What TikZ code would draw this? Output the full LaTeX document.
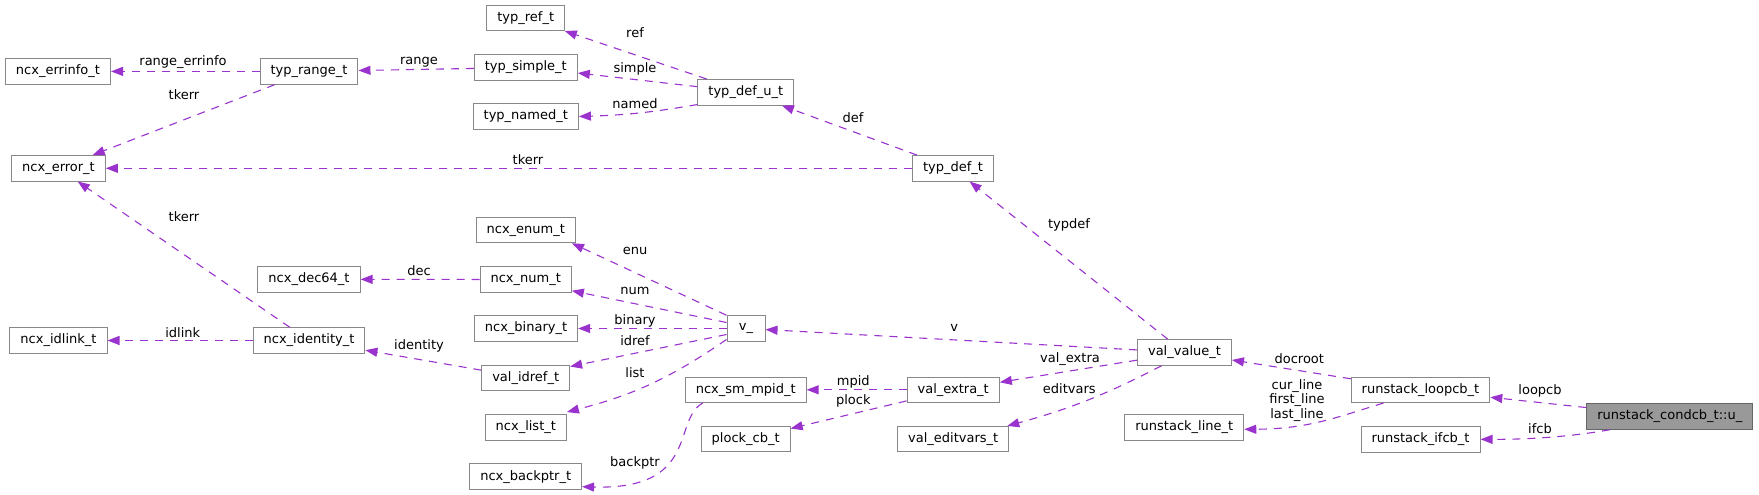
\documentclass[tikz,border=0pt]{standalone}
\usepackage{fontspec}
\setmainfont{DejaVu Sans}
\usetikzlibrary{arrows.meta}
\definecolor{edgec}{HTML}{9A32CD}
\definecolor{boxc}{HTML}{888888}
\definecolor{rootc}{HTML}{999999}

\begin{document}
\begin{tikzpicture}[x=1pt,y=-1pt,
 cls/.style={draw=boxc,fill=white,line width=1pt,minimum height=25.5pt,minimum width=38pt,
  inner xsep=10.5pt,inner ysep=0pt,font=\fontsize{13pt}{14.3pt}\selectfont},
 root/.style={cls,draw=black!60,fill=rootc},
 mem/.style={edgec,line width=1.1pt,dash pattern=on 8pt off 7pt,-{Triangle[length=12pt,width=9pt]}},
 lbl/.style={inner sep=0pt,align=center,font=\fontsize{13pt}{14.3pt}\selectfont}]
 \useasboundingbox (0,0) rectangle (1759,495);

 % classes
 \node[cls] (errinfo) at (58,71.4) {ncx\_errinfo\_t};
 \node[cls] (range) at (309,71.4) {typ\_range\_t};
 \node[cls] (tref) at (525.7,17.8) {typ\_ref\_t};
 \node[cls] (tsimple) at (525.8,67.5) {typ\_simple\_t};
 \node[cls] (tnamed) at (525.8,116.5) {typ\_named\_t};
 \node[cls] (defu) at (745.8,92.3) {typ\_def\_u\_t};
 \node[cls] (nerror) at (58.5,168.3) {ncx\_error\_t};
 \node[cls] (tdef) at (953,168.3) {typ\_def\_t};
 \node[cls] (nenum) at (525.8,230) {ncx\_enum\_t};
 \node[cls] (dec64) at (309,279.3) {ncx\_dec64\_t};
 \node[cls] (nnum) at (525.7,279.5) {ncx\_num\_t};
 \node[cls] (binary) at (526,328.5) {ncx\_binary\_t};
 \node[cls] (idlink) at (58.5,340.5) {ncx\_idlink\_t};
 \node[cls] (identity) at (309,340.5) {ncx\_identity\_t};
 \node[cls] (idref) at (525.7,377.8) {val\_idref\_t};
 \node[cls] (nlist) at (525.8,427.3) {ncx\_list\_t};
 \node[cls] (backptr) at (525.7,476.7) {ncx\_backptr\_t};
 \node[cls] (vu) at (746,328.5) {v\_};
 \node[cls] (mpid) at (745.7,389.8) {ncx\_sm\_mpid\_t};
 \node[cls] (plock) at (745.7,439.2) {plock\_cb\_t};
 \node[cls] (vextra) at (953.2,389.8) {val\_extra\_t};
 \node[cls] (veditvars) at (953.2,439.2) {val\_editvars\_t};
 \node[cls] (vvalue) at (1184.5,352.5) {val\_value\_t};
 \node[cls] (rsline) at (1184.3,427.3) {runstack\_line\_t};
 \node[cls] (loopcb) at (1420.5,389.8) {runstack\_loopcb\_t};
 \node[cls] (ifcb) at (1420.5,439.3) {runstack\_ifcb\_t};
 \node[root] (condu) at (1669.8,416.5) {runstack\_condcb\_t::u\_};

 % members
 \draw[mem] (range) -- (errinfo);
 \draw[mem] (range) -- (nerror);
 \draw[mem] (tsimple) -- (range);
 \draw[mem] (defu) -- (tref);
 \draw[mem] ([yshift=5.6pt]defu.west) -- ([yshift=-5.5pt]tsimple.east);
 \draw[mem] ([yshift=1pt]defu.south west) to[bend left=4] (tnamed.east);
 \draw[mem] (tdef) -- (defu);
 \draw[mem] (tdef) -- (nerror);
 \draw[mem] (vvalue) -- (tdef);
 \draw[mem] (identity) -- (nerror);
 \draw[mem] (identity) -- (idlink);
 \draw[mem] (nnum) -- (dec64);
 \draw[mem] (idref) -- (identity);
 \draw[mem] (vu.north west) -- ([xshift=-4pt]nenum.south east);
 \draw[mem] ([yshift=6pt]vu.west) -- ([yshift=2pt]nnum.south east);
 \draw[mem] (vu) -- (binary);
 \draw[mem] ([yshift=-6pt]vu.west) -- ([yshift=-2pt]idref.north east);
 \draw[mem] ([yshift=-11pt]vu.west) to[bend left=10] ([yshift=2pt]nlist.north east);
 \draw[mem] ([xshift=18pt]mpid.south west) .. controls (672,420) and (700,490) .. ([yshift=-10pt]backptr.east);
 \draw[mem] (vextra) -- (mpid);
 \draw[mem] (vextra) -- (plock);
 \draw[mem] (vvalue) -- (vu);
 \draw[mem] (vvalue) -- (vextra);
 \draw[mem] ([xshift=-23pt]vvalue.south) to[bend left=6] ([xshift=-2pt]veditvars.north east);
 \draw[mem] (loopcb) -- (vvalue);
 \draw[mem] ([xshift=-37pt]loopcb.south) .. controls (1340,416) and (1310,429) .. ([yshift=-2pt]rsline.east);
 \draw[mem] (condu) -- (loopcb);
 \draw[mem] ([xshift=-60pt]condu.south) .. controls (1580,435) and (1540,439.5) .. (ifcb.east);

 % labels
 \node[lbl] (lerrinfo) at (183,62) {range\_errinfo};
 \node[lbl] (ltkerra) at (184,95) {tkerr};
 \node[lbl] (lrange) at (419,62) {range};
 \node[lbl] (lref) at (635,33) {ref};
 \node[lbl] (lsimple) at (635,69) {simple};
 \node[lbl] (lnamed) at (635,104) {named};
 \node[lbl] (ldef) at (853,118) {def};
 \node[lbl] (ltkerrb) at (528,160) {tkerr};
 \node[lbl] (ltypdef) at (1069,225) {typdef};
 \node[lbl] (ltkerrc) at (184,217) {tkerr};
 \node[lbl] (ldec) at (419,270.7) {dec};
 \node[lbl] (lidlink) at (182.7,332.3) {idlink};
 \node[lbl] (lidentity) at (419,346) {identity};
 \node[lbl] (lenu) at (635,250.7) {enu};
 \node[lbl] (lnum) at (635,290.7) {num};
 \node[lbl] (lbinary) at (635,320.7) {binary};
 \node[lbl] (lidref) at (635,340.7) {idref};
 \node[lbl] (llist) at (635,372.3) {list};
 \node[lbl] (lbackptr) at (635,463.3) {backptr};
 \node[lbl] (lv) at (954.3,328.3) {v};
 \node[lbl] (lmpid) at (853.3,381.7) {mpid};
 \node[lbl] (lplock) at (853.3,401) {plock};
 \node[lbl] (lvextra) at (1070,359) {val\_extra};
 \node[lbl] (leditvars) at (1069.3,388.3) {editvars};
 \node[lbl] (ldocroot) at (1299.3,358.3) {docroot};
 \node[lbl] (llines) at (1297,400.3) {cur\_line\\first\_line\\last\_line};
 \node[lbl] (lloopcb) at (1540,390.7) {loopcb};
 \node[lbl] (lifcb) at (1540,428.3) {ifcb};
\end{tikzpicture}
\end{document}
